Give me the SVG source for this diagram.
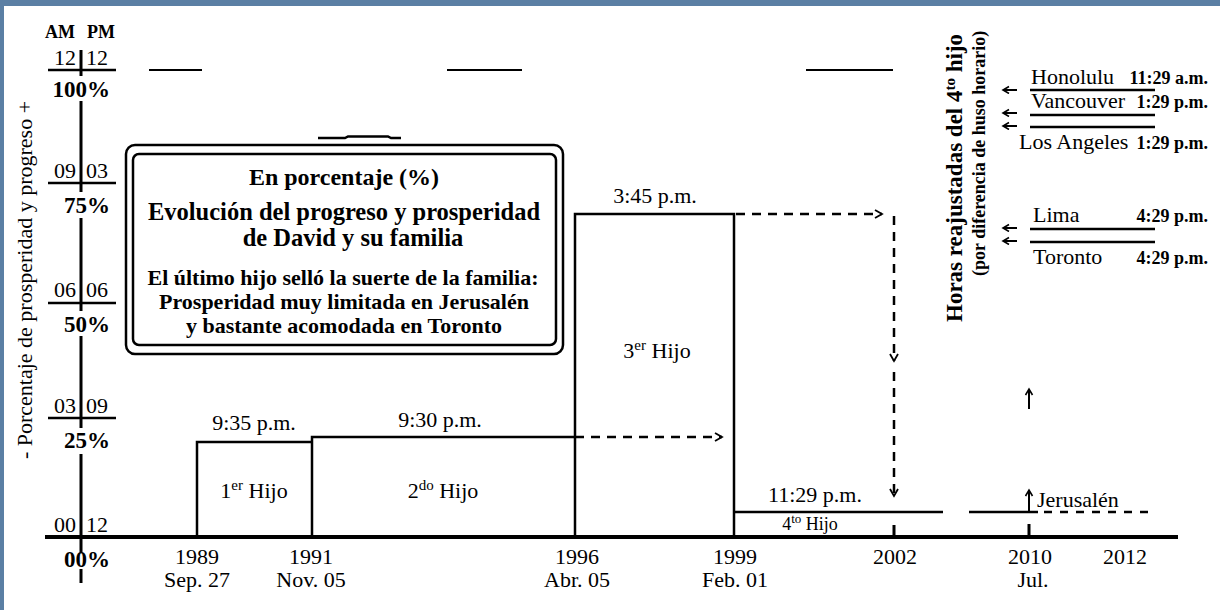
<svg xmlns="http://www.w3.org/2000/svg" width="1220" height="610" viewBox="0 0 1220 610">
<defs>
<marker id="ah" markerWidth="12" markerHeight="12" refX="9" refY="5" orient="auto" markerUnits="userSpaceOnUse">
<path d="M2,1 L9,5 L2,9" fill="none" stroke="#000" stroke-width="1.8" stroke-dasharray="none"/>
</marker>
<marker id="ahs" markerWidth="10" markerHeight="10" refX="7" refY="4" orient="auto" markerUnits="userSpaceOnUse">
<path d="M1,0.5 L7,4 L1,7.5" fill="none" stroke="#000" stroke-width="1.6" stroke-dasharray="none"/>
</marker>
<style>
.t{font-family:"Liberation Serif","Times New Roman",serif;fill:#000}
.b{font-weight:bold}
.m{text-anchor:middle}
.e{text-anchor:end}
.ln{stroke:#000;stroke-width:2.5;fill:none}
.ax{stroke:#000;stroke-width:4;fill:none}
.tk{stroke:#000;stroke-width:3;fill:none}
.dash{stroke:#000;stroke-width:2.5;fill:none;stroke-dasharray:9 7}
.thin{stroke:#000;stroke-width:2;fill:none}
.f22{font-size:22px}
.f20{font-size:20px}
.f18{font-size:18px}
.f16{font-size:16px}
.pct{font-size:23px}
.tz{font-size:18px}
</style>
</defs>
<rect x="0" y="0" width="1220" height="610" fill="#fff"/>
<g id="frame">
<rect x="0" y="0" width="1220" height="6" fill="#5b7fa4"/>
<rect x="0" y="0" width="4" height="610" fill="#5b7fa4"/>
</g>

<g id="y-axis">
<text class="t b f18 e" x="75" y="38">AM</text>
<text class="t b f18" x="87" y="38">PM</text>
<path class="tk" d="M81,50 V76 M81,101 V192 M81,218 V311 M81,336 V428 M81,454 V553 M81,569 V583"/>
<path class="thin" d="M48,70 H116 M48,183 H116 M48,303 H116 M48,418 H116" style="stroke-width:2.5"/>
<text class="t f22 e" x="76" y="65">12</text><text class="t f22" x="86" y="65">12</text>
<text class="t f22 e" x="76" y="178">09</text><text class="t f22" x="86" y="178">03</text>
<text class="t f22 e" x="76" y="297">06</text><text class="t f22" x="86" y="297">06</text>
<text class="t f22 e" x="76" y="413">03</text><text class="t f22" x="86" y="413">09</text>
<text class="t f22 e" x="76" y="532">00</text><text class="t f22" x="86" y="532">12</text>
<text class="t b pct e" x="110" y="97">100%</text>
<text class="t b pct e" x="110" y="213">75%</text>
<text class="t b pct e" x="110" y="332">50%</text>
<text class="t b pct e" x="110" y="448">25%</text>
<text class="t b pct e" x="110" y="567">00%</text>
<text class="t f22 m" transform="translate(32,280) rotate(-90)">- Porcentaje de prosperidad y progreso +</text>
</g>

<g id="x-axis">
<path class="ax" d="M45,537 H1178"/>
<path class="tk" d="M894,525 V537 M1029,524 V537"/>
<text class="t f22 m" x="197" y="564">1989</text><text class="t f22 m" x="197" y="587">Sep. 27</text>
<text class="t f22 m" x="311" y="564">1991</text><text class="t f22 m" x="311" y="587">Nov. 05</text>
<text class="t f22 m" x="577" y="564">1996</text><text class="t f22 m" x="577" y="587">Abr. 05</text>
<text class="t f22 m" x="735" y="564">1999</text><text class="t f22 m" x="735" y="587">Feb. 01</text>
<text class="t f22 m" x="895" y="564">2002</text>
<text class="t f22 m" x="1030" y="564">2010</text><text class="t f22 m" x="1033" y="587">Jul.</text>
<text class="t f22 m" x="1125" y="564">2012</text>
</g>

<g id="top-marks">
<path class="thin" d="M149,70 H202 M447,70 H522 M806,70 H893"/>
<path class="thin" d="M318,138 H345 L348,136.5 H388 L391,138 H401" style="stroke-width:2.5"/>
</g>

<g id="title-box">
<rect x="126" y="145" width="437" height="209" rx="9" class="ln"/>
<rect x="133" y="154" width="423" height="191" rx="6" class="ln"/>
<text class="t b m" style="font-size:24px" x="344" y="185">En porcentaje (%)</text>
<text class="t b m" style="font-size:24.5px" x="344" y="220">Evolución del progreso y prosperidad</text>
<text class="t b m" style="font-size:24.5px" x="353" y="246">de David y su familia</text>
<text class="t b m" style="font-size:22px" x="343" y="285">El último hijo selló la suerte de la familia:</text>
<text class="t b m" style="font-size:22px" x="344" y="309">Prosperidad muy limitada en Jerusalén</text>
<text class="t b m" style="font-size:22px" x="344" y="333">y bastante acomodada en Toronto</text>
</g>

<g id="bar-1">
<path class="ln" d="M197,537 V442 H312"/>
<text class="t f22 m" x="254" y="430">9:35 p.m.</text>
<text class="t f22 m" x="254" y="498">1<tspan style="font-size:15px" dy="-8">er</tspan><tspan dy="8"> Hijo</tspan></text>
</g>

<g id="bar-2">
<path class="ln" d="M312,537 V437 H575"/>
<text class="t f22 m" x="440" y="427">9:30 p.m.</text>
<text class="t f22 m" x="443" y="498">2<tspan style="font-size:15px" dy="-8">do</tspan><tspan dy="8"> Hijo</tspan></text>
</g>

<g id="bar-3">
<path class="ln" d="M575,537 V214 H734 V537"/>
<text class="t f22 m" x="655" y="203">3:45 p.m.</text>
<text class="t f22 m" x="657" y="358">3<tspan style="font-size:15px" dy="-8">er</tspan><tspan dy="8"> Hijo</tspan></text>
</g>

<g id="bar-4">
<path class="ln" d="M734,512 H943 M969,512 H1038"/>
<path class="dash" d="M1044,512 H1150" style="stroke-dasharray:8 8"/>
<text class="t f22 m" x="815" y="502">11:29 p.m.</text>
<text class="t f18 m" x="810" y="530">4<tspan style="font-size:13px" dy="-7">to</tspan><tspan dy="7"> Hijo</tspan></text>
<text class="t f22" x="1037" y="507">Jerusalén</text>
</g>

<g id="connectors">
<path class="dash" d="M575,437 H722" marker-end="url(#ah)"/>
<path class="dash" d="M736,214 H882" marker-end="url(#ah)"/>
<path class="dash" d="M894,216 V361" marker-end="url(#ah)"/>
<path class="dash" d="M894,372 V496" marker-end="url(#ah)"/>
<path class="thin" d="M1029,512 V490" marker-end="url(#ahs)"/>
<path class="thin" d="M1029,409 V389" marker-end="url(#ahs)"/>
<path class="thin" d="M1017,90 H1003" marker-end="url(#ahs)"/>
<path class="thin" d="M1017,113 H1003" marker-end="url(#ahs)"/>
<path class="thin" d="M1017,126 H1003" marker-end="url(#ahs)"/>
<path class="thin" d="M1017,228 H1003" marker-end="url(#ahs)"/>
<path class="thin" d="M1017,241 H1003" marker-end="url(#ahs)"/>
</g>

<g id="time-zones">
<text class="t b" style="font-size:23px" transform="translate(962,322) rotate(-90)">Horas reajustadas del 4<tspan style="font-size:15px" dy="-7">to</tspan><tspan dy="7"> hijo</tspan></text>
<text class="t b" style="font-size:18px" transform="translate(985,276) rotate(-90)">(por diferencia de huso horario)</text>
<path class="ln" d="M1030,90 H1155 M1030,115 H1155 M1030,127 H1155 M1030,229 H1155 M1030,242 H1155"/>
<text class="t f22" x="1031" y="84">Honolulu</text>
<text class="t b tz e" x="1208" y="84">11:29 a.m.</text>
<text class="t f22" x="1031" y="108">Vancouver</text>
<text class="t b tz e" x="1208" y="108">1:29 p.m.</text>
<text class="t f22" x="1019" y="149">Los Angeles</text>
<text class="t b tz e" x="1208" y="149">1:29 p.m.</text>
<text class="t f22" x="1033" y="222">Lima</text>
<text class="t b tz e" x="1208" y="222">4:29 p.m.</text>
<text class="t f22" x="1033" y="264">Toronto</text>
<text class="t b tz e" x="1208" y="264">4:29 p.m.</text>
</g>
</svg>
